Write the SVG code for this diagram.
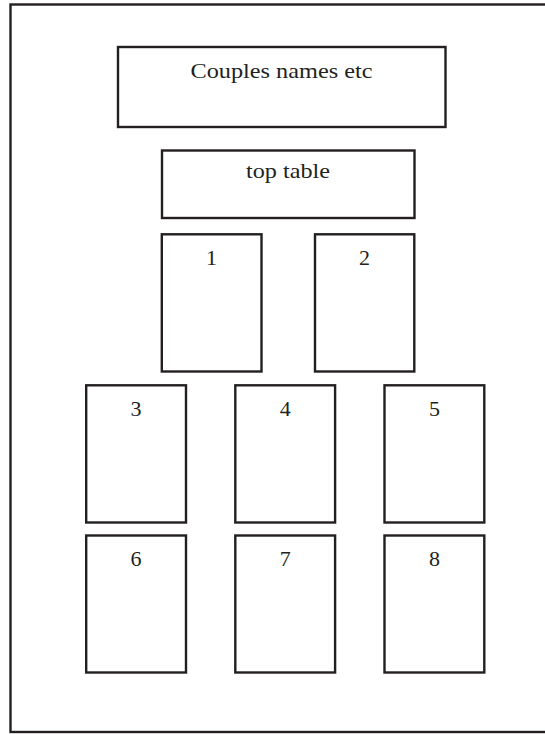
<svg xmlns="http://www.w3.org/2000/svg" width="545" height="734" viewBox="0 0 545 734">
  <style>
    .box { fill: #ffffff; stroke: #231f20; stroke-width: 2.4; }
    .lbl { font-family: "Liberation Serif", "DejaVu Serif", serif; font-size: 22px; fill: #231f20; text-anchor: middle; }
  </style>
  <rect x="0" y="0" width="545" height="734" fill="#ffffff"/>
  <g id="frame">
    <rect class="box" x="10.5" y="4.5" width="540" height="727.5"/>
  </g>
  <g id="couples">
    <rect class="box" x="118" y="47" width="327.5" height="80"/>
    <text class="lbl" x="281.5" y="78.3" textLength="182" lengthAdjust="spacingAndGlyphs">Couples names etc</text>
  </g>
  <g id="top-table">
    <rect class="box" x="162" y="150.5" width="252.5" height="67.5"/>
    <text class="lbl" x="288" y="178.3" textLength="84" lengthAdjust="spacingAndGlyphs">top table</text>
  </g>
  <g id="table-1">
    <rect class="box" x="161.8" y="234.3" width="99.7" height="137.2"/>
    <text class="lbl" x="211.6" y="265.3">1</text>
  </g>
  <g id="table-2">
    <rect class="box" x="315" y="234.3" width="99.3" height="137.2"/>
    <text class="lbl" x="364.6" y="265.3">2</text>
  </g>
  <g id="table-3">
    <rect class="box" x="86.2" y="385.3" width="99.8" height="137.2"/>
    <text class="lbl" x="136.1" y="415.8">3</text>
  </g>
  <g id="table-4">
    <rect class="box" x="235.3" y="385.3" width="99.8" height="137.2"/>
    <text class="lbl" x="285.2" y="415.8">4</text>
  </g>
  <g id="table-5">
    <rect class="box" x="384.5" y="385.3" width="99.8" height="137.2"/>
    <text class="lbl" x="434.4" y="415.8">5</text>
  </g>
  <g id="table-6">
    <rect class="box" x="86.2" y="535.5" width="99.8" height="137"/>
    <text class="lbl" x="136.1" y="566.3">6</text>
  </g>
  <g id="table-7">
    <rect class="box" x="235.3" y="535.5" width="99.8" height="137"/>
    <text class="lbl" x="285.2" y="566.3">7</text>
  </g>
  <g id="table-8">
    <rect class="box" x="384.5" y="535.5" width="99.8" height="137"/>
    <text class="lbl" x="434.4" y="566.3">8</text>
  </g>
  <g id="connectors"></g>
</svg>
